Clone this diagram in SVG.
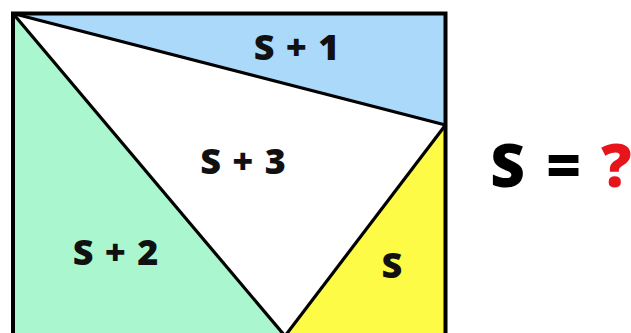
<svg xmlns="http://www.w3.org/2000/svg" width="631" height="333" viewBox="0 0 631 333">
<style>
.lbl{font-family:"Open Sans","Liberation Sans",sans-serif;font-weight:800;font-size:36px;fill:#111;text-anchor:middle;word-spacing:2px}
.big{font-family:"Open Sans","Liberation Sans",sans-serif;font-weight:800;font-size:60px;text-anchor:middle}
.edge{stroke:#000;stroke-width:3.2;fill:none;stroke-linejoin:miter}
</style>
<rect width="631" height="333" fill="#fff"/>
<g id="region-blue">
<polygon points="13,13.5 445.5,13.5 445.5,125" fill="#aad9fa"/>
<text class="lbl" x="296.5" y="60">S + 1</text>
</g>
<g id="region-white">
<polygon points="13,13.5 445.5,125 285,336" fill="#ffffff"/>
<text class="lbl" x="243" y="174">S + 3</text>
</g>
<g id="region-green">
<polygon points="13,13.5 285,336 13,336" fill="#aaf7cf"/>
<text class="lbl" x="115.5" y="265">S + 2</text>
</g>
<g id="region-yellow">
<polygon points="445.5,125 445.5,336 285,336" fill="#fdfb45"/>
<text class="lbl" x="392" y="278">S</text>
</g>
<g id="connectors">
<line class="edge" x1="13" y1="13.5" x2="445.5" y2="125"/>
<line class="edge" x1="13" y1="13.5" x2="285" y2="336"/>
<line class="edge" x1="445.5" y1="125" x2="285" y2="336"/>
<rect x="13" y="13.5" width="432.5" height="330" fill="none" stroke="#000" stroke-width="4"/>
</g>
<g id="equation">
<text class="big" x="507.5" y="187" fill="#000">S</text>
<text class="big" x="563.5" y="187" fill="#000">=</text>
<text class="big" x="616.5" y="187" fill="#e8141c">?</text>
</g>
</svg>
